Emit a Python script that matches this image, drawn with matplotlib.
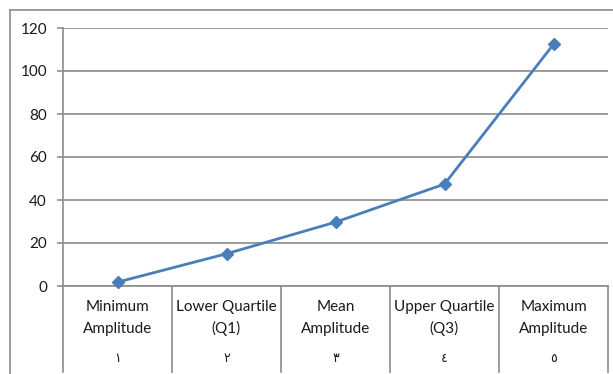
import matplotlib
matplotlib.use("Agg")
import matplotlib.pyplot as plt
from matplotlib.lines import Line2D

plt.rcParams['font.family'] = ['Lato', 'DejaVu Sans']

categories = ["Minimum\nAmplitude", "Lower Quartile\n(Q1)", "Mean\nAmplitude",
              "Upper Quartile\n(Q3)", "Maximum\nAmplitude"]
group_labels = ["١", "٢", "٣", "٤", "٥"]
values = [1.8, 15.0, 29.7, 47.4, 112.4]
y_ticks = [0, 20, 40, 60, 80, 100, 120]

W, H = 613, 374
fig = plt.figure(figsize=(W / 100, H / 100), dpi=100)

# plot area in pixel terms
left, right, top, bottom = 63, 608, 28, 286
ax = fig.add_axes([left / W, 1 - bottom / H, (right - left) / W, (bottom - top) / H])

grid_c = "#8c8c8c"
line_c = "#4a7ebb"
text_c = "#1a1a1a"

ax.set_xlim(0, len(categories))
ax.set_ylim(0, 120)
ax.set_yticks(y_ticks)
ax.set_xticks([])
ax.yaxis.grid(True, color=grid_c, linewidth=1.2)
ax.set_axisbelow(True)
for s in ("top", "right"):
    ax.spines[s].set_visible(False)
for s in ("left", "bottom"):
    ax.spines[s].set_color(grid_c)
    ax.spines[s].set_linewidth(1.2)
ax.tick_params(axis="y", length=4.5, width=1.2, color=grid_c, pad=7,
               labelsize=11, labelcolor=text_c)

xs = [i + 0.5 for i in range(len(values))]
ax.plot(xs, values, color=line_c, linewidth=2.0, marker="D", markersize=6.5,
        markerfacecolor=line_c, markeredgecolor=line_c, clip_on=False, zorder=5)

# multi-level category axis below the plot
def y_px(p):
    return (bottom - p) / (bottom - top)

for i in range(len(categories) + 1):
    ax.add_line(Line2D([i, i], [0, y_px(372)], transform=ax.get_xaxis_transform(),
                       color=grid_c, linewidth=1.2, clip_on=False))

for i, (lab, g) in enumerate(zip(categories, group_labels)):
    top_line, bot_line = lab.split("\n")
    ax.text(i + 0.5, y_px(307), top_line, transform=ax.get_xaxis_transform(),
            ha="center", va="center", fontsize=11, color=text_c)
    ax.text(i + 0.5, y_px(328.5), bot_line, transform=ax.get_xaxis_transform(),
            ha="center", va="center", fontsize=11, color=text_c)
    ax.text(i + 0.5, y_px(358), g, transform=ax.get_xaxis_transform(),
            ha="center", va="center", fontsize=9, color=text_c,
            family="DejaVu Sans")

# chart frame
fig.add_artist(Line2D([10 / W, 10 / W], [1 - 9.5 / H, 0], color=grid_c, linewidth=1.2))
fig.add_artist(Line2D([10 / W, 1], [1 - 9.5 / H, 1 - 9.5 / H], color=grid_c, linewidth=1.2))

fig.savefig("out.png", dpi=100)
